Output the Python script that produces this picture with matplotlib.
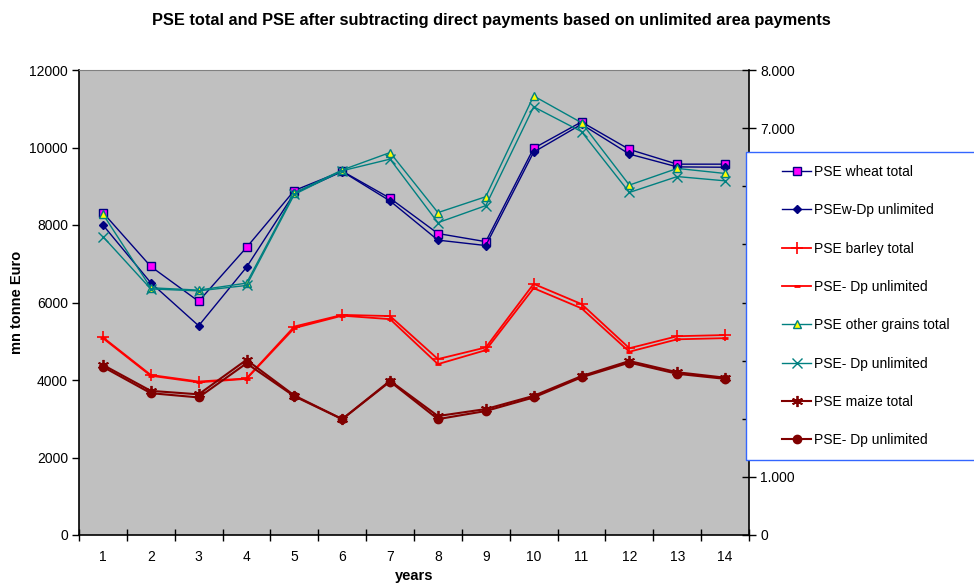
import matplotlib
matplotlib.use("Agg")
import matplotlib.pyplot as plt
from matplotlib.patches import Rectangle
from matplotlib.ticker import FixedLocator, FuncFormatter

plt.rcParams['font.family'] = ['Liberation Sans', 'DejaVu Sans']

years = list(range(1, 15))

wheat_total = [8320, 6930, 6030, 7420, 8890, 9390, 8690, 7780, 7570, 9980, 10660, 9950, 9570, 9570]
wheat_dp = [8000, 6510, 5400, 6910, 8820, 9380, 8620, 7610, 7470, 9880, 10600, 9830, 9500, 9490]
barley_total = [5100, 4130, 3960, 4040, 5380, 5680, 5650, 4540, 4840, 6480, 5960, 4820, 5130, 5160]
barley_dp = [5080, 4110, 3940, 4030, 5340, 5660, 5570, 4410, 4770, 6370, 5850, 4730, 5050, 5080]
grains_total = [8280, 6380, 6320, 6500, 8830, 9420, 9870, 8320, 8730, 11330, 10640, 9030, 9460, 9330]
grains_dp = [7700, 6350, 6300, 6440, 8790, 9400, 9700, 8060, 8500, 11050, 10410, 8840, 9250, 9140]
maize_total = [4390, 3720, 3630, 4520, 3600, 2990, 3980, 3070, 3250, 3590, 4100, 4490, 4200, 4060]
maize_dp = [4340, 3660, 3550, 4430, 3580, 2990, 3960, 2990, 3200, 3550, 4070, 4450, 4160, 4030]

fig = plt.figure(figsize=(9.74, 5.83), dpi=100)
ax = fig.add_axes([79 / 974, 1 - 535 / 583, 670 / 974, 465 / 583])
ax.set_facecolor('#C0C0C0')

series = [
    (wheat_total, 'PSE wheat total', dict(color='#000080', marker='s', mfc='#FF00FF', mec='#000080', ms=5.5, lw=1)),
    (wheat_dp, 'PSEw-Dp unlimited', dict(color='#000080', marker='D', mfc='#000080', mec='#000080', ms=4.5, lw=1)),
    (barley_total, 'PSE barley total', dict(color='#FF0000', marker='+', mec='#FF0000', ms=8, mew=1.2, lw=1.3)),
    (barley_dp, 'PSE- Dp unlimited', dict(color='#FF0000', marker='_', mec='#FF0000', ms=5, mew=2, lw=1.3)),
    (grains_total, 'PSE other grains total', dict(color='#008080', marker='^', mfc='#FFFF00', mec='#008080', ms=6, lw=1)),
    (grains_dp, 'PSE- Dp unlimited', dict(color='#008080', marker='x', mec='#008080', ms=6.5, mew=1, lw=1)),
    (maize_total, 'PSE maize total', dict(color='#800000', marker=(6, 2, 0), mec='#800000', ms=8, mew=1.3, lw=1.5)),
    (maize_dp, 'PSE- Dp unlimited', dict(color='#800000', marker='o', mfc='#800000', mec='#800000', ms=6, lw=1.5)),
]
handles = []
for vals, label, style in series:
    h, = ax.plot(years, vals, label=label, **style)
    handles.append(h)

ax.set_xlim(0.5, 14.5)
ax.set_ylim(0, 12000)
ax.set_yticks(range(0, 12001, 2000))
ax.xaxis.set_major_locator(FixedLocator(years))
ax.xaxis.set_minor_locator(FixedLocator([y + 0.5 for y in range(0, 15)]))
ax.tick_params(axis='x', which='major', length=0, pad=11, labelsize=10)
ax.tick_params(axis='x', which='minor', direction='inout', length=8, width=1)
ax.tick_params(axis='y', direction='out', length=5, width=1, labelsize=10, pad=3)
ax.spines['top'].set_color('#808080')
ax.spines['right'].set_visible(False)
ax.spines['left'].set_linewidth(1.2)
ax.spines['bottom'].set_linewidth(1.2)

ax2 = ax.twinx()
ax2.set_ylim(0, 8)
ax2.set_yticks(range(0, 9))
ax2.yaxis.set_major_formatter(FuncFormatter(lambda v, p: '0' if v == 0 else '%d.000' % v))
ax2.tick_params(axis='y', direction='inout', length=10, width=1, labelsize=10, pad=3)
for s in ['top', 'left', 'bottom']:
    ax2.spines[s].set_visible(False)
ax2.spines['right'].set_linewidth(1.2)

fig.text(17 / 974, 1 - 302 / 583, 'mn tonne Euro', rotation=90, ha='center', va='center',
         fontsize=10.5, fontweight='bold')
fig.text(414 / 974, 1 - 576 / 583, 'years', ha='center', va='center', fontsize=10.5, fontweight='bold')
fig.text(491 / 974, 1 - 20 / 583, 'PSE total and PSE after subtracting direct payments based on unlimited area payments',
         ha='center', va='center', fontsize=11.8, fontweight='bold')

# legend box, running off the right edge as in the original
box = Rectangle((746 / 974, 1 - 460 / 583), 240 / 974, 308 / 583, transform=fig.transFigure,
                facecolor='white', edgecolor='#3366FF', lw=1, zorder=10)
fig.add_artist(box)
leg = fig.legend(handles=handles, loc='upper left', bbox_to_anchor=(782 / 974, 1 - 165 / 583),
                 frameon=False, fontsize=10, labelspacing=1.75, handlelength=2.1, handletextpad=0.22,
                 borderaxespad=0, borderpad=0)
leg.set_zorder(11)

fig.savefig('out.png', dpi=100)
